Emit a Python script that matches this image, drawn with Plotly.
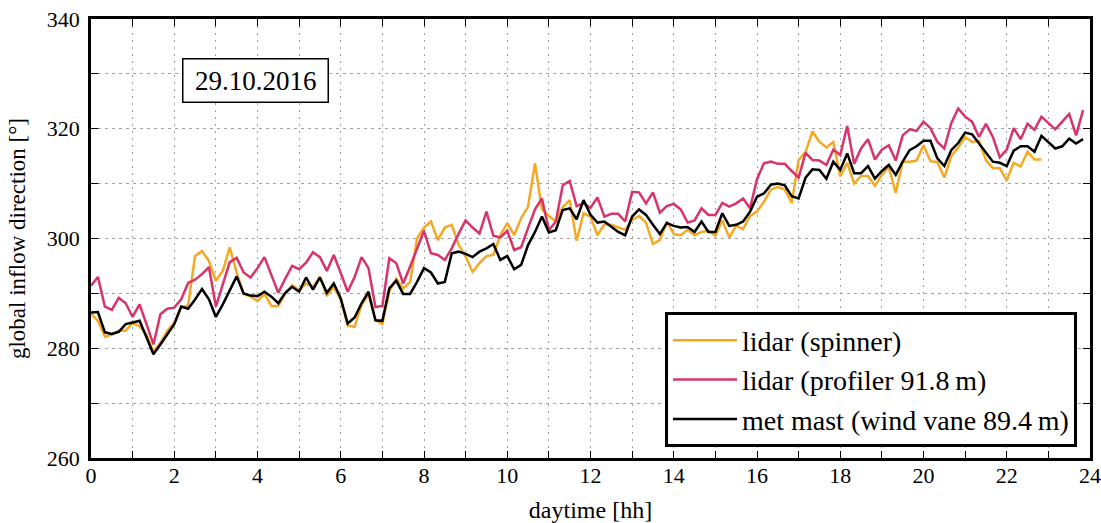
import plotly.graph_objects as go

# values (10-minute samples starting at 00:00)
spinner = [286.3, 285.0, 282.1, 282.5, 283.2, 283.2, 284.6, 284.0, 282.5, 279.3, 281.0, 283.2, 284.7, 287.4, 287.8, 296.8, 297.7, 295.9, 292.3, 294.1, 298.4, 293.8, 289.9, 289.4, 288.6,
           289.9, 287.7, 287.7, 290.0, 291.5, 290.6, 291.8, 291.2, 293.0, 289.5, 291.2, 288.8, 284.1, 283.9, 287.9, 289.7, 285.1, 284.4, 290.3, 292.7, 290.9, 292.1, 300.0, 302.0, 303.1,
           299.7, 302.0, 302.5, 298.8, 296.7, 293.9, 295.5, 296.8, 297.0, 300.6, 302.8, 300.6, 303.7, 305.8, 313.7, 305.3, 304.1, 303.1, 305.7, 307.0, 299.6, 304.6, 304.0, 300.6,
           302.6, 302.5, 302.0, 301.6, 303.4, 304.1, 302.9, 299.0, 299.7, 303.1, 300.8, 300.6, 301.6, 300.6, 301.2, 301.4, 300.5, 303.3, 300.2, 302.3, 301.7, 304.1, 304.9, 306.7, 308.9,
           309.4, 308.9, 306.5, 314.3, 315.8, 319.5, 317.6, 316.6, 317.6, 311.3, 313.8, 310.0, 311.4, 311.4, 309.6, 311.6, 313.0, 308.3, 314.0, 314.0, 314.2, 317.0, 314.1, 313.9,
           311.1, 315.0, 316.6, 318.5, 317.6, 317.8, 314.3, 312.8, 312.8, 310.6, 313.8, 313.1, 315.8, 314.4, 314.4]

profiler = [291.4, 293.0, 287.6, 287.0, 289.2, 288.2, 285.7, 288.0, 284.4, 280.7, 286.2, 287.2, 287.4, 288.9, 291.9, 292.5, 293.5, 294.8, 287.6, 291.7, 295.7, 296.5, 293.8, 292.9, 294.6,
            296.6, 293.3, 290.1, 292.7, 295.0, 294.4, 295.6, 297.5, 296.6, 294.1, 297.0, 293.7, 290.3, 293.0, 296.6, 294.6, 287.5, 287.7, 296.4, 295.5, 291.8, 294.9, 298.2, 301.4, 297.3,
            297.0, 296.1, 298.2, 300.9, 303.3, 302.0, 300.9, 304.9, 300.5, 300.2, 301.4, 297.9, 298.4, 301.9, 305.3, 307.3, 301.5, 303.1, 309.7, 310.5, 305.9, 306.4, 305.6, 307.5,
            304.0, 304.5, 304.5, 303.1, 308.5, 308.4, 306.4, 308.4, 304.7, 305.9, 306.3, 305.3, 302.9, 303.3, 305.5, 304.3, 304.3, 306.5, 305.8, 306.4, 307.3, 305.5, 310.8, 313.7, 314.0,
            313.6, 313.6, 312.3, 311.1, 315.6, 314.3, 314.2, 313.4, 316.2, 315.2, 320.5, 313.6, 316.4, 318.1, 314.4, 316.2, 317.0, 314.2, 318.8, 319.9, 319.6,
            321.3, 320.1, 317.6, 316.4, 321.0, 323.7, 322.2, 321.3, 318.5, 320.9, 318.5, 314.8, 316.2, 320.1, 318.1, 320.9, 319.8, 322.2, 321.0, 319.9, 321.3, 322.7, 318.8, 323.4]

metmast = [286.5, 286.6, 282.9, 282.6, 283.0, 284.4, 284.7, 285.0, 282.0, 278.9, 280.7, 282.6, 284.4, 287.6, 287.2, 288.9, 290.8, 288.9, 285.7, 288.0, 290.5, 293.1, 290.0, 289.6, 289.5,
           290.3, 289.4, 288.2, 290.1, 291.2, 290.3, 292.9, 290.7, 292.9, 290.1, 291.8, 289.1, 284.5, 285.6, 288.2, 290.3, 285.1, 285.0, 290.9, 292.3, 289.9, 289.9, 292.1, 294.6, 293.8,
           291.8, 292.1, 297.3, 297.6, 297.2, 296.6, 297.6, 298.2, 299.0, 296.1, 296.8, 294.4, 295.2, 298.8, 301.2, 304.0, 301.1, 301.5, 305.2, 305.5, 303.5, 307.0, 304.3, 302.9,
           303.1, 302.2, 301.2, 300.6, 304.0, 305.3, 304.3, 302.5, 300.8, 302.8, 302.3, 302.0, 302.1, 301.2, 303.1, 301.2, 301.2, 304.6, 302.3, 302.5, 303.1, 304.9, 307.6, 308.2, 309.8,
           310.0, 309.7, 307.7, 307.3, 311.1, 312.6, 312.5, 310.9, 314.0, 312.5, 315.5, 311.9, 311.9, 313.2, 310.9, 312.3, 313.4, 311.6, 314.0, 316.1, 316.8,
           317.8, 317.8, 314.6, 313.2, 316.1, 317.4, 319.3, 319.0, 317.4, 315.6, 314.0, 313.8, 313.2, 316.0, 316.8, 316.8, 315.8, 318.7, 317.6, 316.4, 316.8, 318.2, 317.3, 318.1]

sample_hours = 1 / 6  # 10-minute sampling
t_spinner = [i * sample_hours for i in range(len(spinner))]
t_profiler = [i * sample_hours for i in range(len(profiler))]
t_metmast = [i * sample_hours for i in range(len(metmast))]

series_names = ["lidar (spinner)", "lidar (profiler 91.8\u2009m)", "met mast (wind vane 89.4\u2009m)"]
x_tickvals = list(range(0, 25))
x_ticktext = [str(v) if v % 2 == 0 else "" for v in x_tickvals]
y_tickvals = list(range(260, 341, 10))
y_ticktext = [str(v) if v % 20 == 0 else "" for v in y_tickvals]
date_label = "29.10.2016"

ORANGE = "#F5A923"
MAGENTA = "#D9336B"
FONT = "Liberation Serif"

fig = go.Figure()
fig.add_trace(go.Scatter(x=t_spinner, y=spinner, mode="lines", name=series_names[0],
                         line=dict(color=ORANGE, width=2.5)))
fig.add_trace(go.Scatter(x=t_profiler, y=profiler, mode="lines", name=series_names[1],
                         line=dict(color=MAGENTA, width=2.5)))
fig.add_trace(go.Scatter(x=t_metmast, y=metmast, mode="lines", name=series_names[2],
                         line=dict(color="black", width=2.5)))

axis_common = dict(showline=True, linecolor="black", linewidth=2.5, mirror="allticks",
                   ticks="inside", ticklen=7, tickwidth=1.2, tickcolor="black",
                   zeroline=False, gridcolor="#a0a0a0", gridwidth=1, automargin=False,
                   tickfont=dict(family=FONT, size=22, color="black"))

fig.update_xaxes(range=[0, 24], tickmode="array", tickvals=x_tickvals, ticktext=x_ticktext,
                 griddash="2px,5px", ticklabelstandoff=-4,
                 title=dict(text="daytime [hh]", font=dict(family=FONT, size=24, color="black"), standoff=15),
                 **axis_common)
fig.update_yaxes(range=[260, 340], tickmode="array", tickvals=y_tickvals, ticktext=y_ticktext,
                 griddash="3px,4px", ticklabelstandoff=4,
                 title=dict(text="global inflow direction [°]", font=dict(family=FONT, size=23, color="black"), standoff=15),
                 **axis_common)

fig.add_annotation(x=0.165, y=0.859, xref="paper", yref="paper", xanchor="center", yanchor="middle",
                   text="\u2009" + date_label + "\u2009",
                   showarrow=False,
                   font=dict(family=FONT, size=27, color="black"), bgcolor="white",
                   bordercolor="black", borderwidth=1.5, borderpad=6)

fig.update_layout(
    width=1101, height=523,
    margin=dict(l=91, r=11, t=19, b=65),
    paper_bgcolor="white", plot_bgcolor="white",
    showlegend=True,
    legend=dict(x=0.987, y=0.024, xanchor="right", yanchor="bottom",
                bgcolor="white", bordercolor="black", borderwidth=3,
                font=dict(family=FONT, size=28, color="black"),
                itemwidth=64),
)

fig.write_html("out.html", config={"displayModeBar": False},
               post_script="document.body.style.margin='0px';document.body.style.overflow='hidden';")
